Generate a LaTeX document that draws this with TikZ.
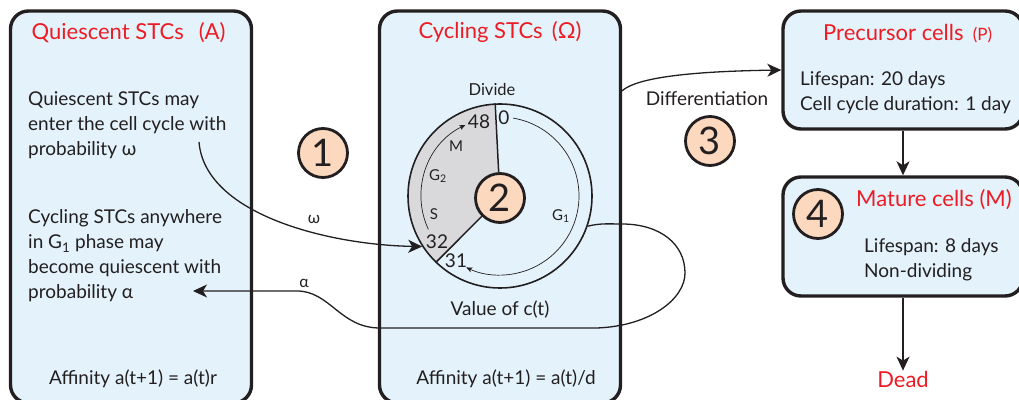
\documentclass[tikz,border=0pt]{standalone}
\usepackage{fontspec}
\setmainfont{Lato}
\usetikzlibrary{arrows.meta}
\definecolor{boxblue}{HTML}{E3F2FB}
\definecolor{badgepeach}{HTML}{FBD8BE}
\definecolor{inkdark}{HTML}{231F20}
\definecolor{titlered}{HTML}{ED1C24}
\definecolor{sectorgrey}{HTML}{D9D9DC}

\begin{document}
\begin{tikzpicture}[x=1pt,y=1pt,color=inkdark,text=inkdark]

      \tikzset{box/.style = {shape=rectangle,draw,fill=boxblue,line width=3.4pt,rounded corners=18pt,inner sep=0pt}}
      \tikzset{badge/.style = {shape=circle,draw,fill=badgepeach,line width=2.8pt,minimum size=49pt,inner sep=0pt,font=\fontsize{38}{38}\selectfont}}
      \tikzset{title/.style = {text=titlered,inner sep=0pt,font=\fontsize{22}{24}\selectfont}}
      \tikzset{body/.style = {inner sep=0pt,align=left,font=\fontsize{19}{25}\selectfont}}
      \tikzset{phase/.style = {inner sep=0pt,font=\fontsize{15}{16}\selectfont}}
      \tikzset{count/.style = {inner sep=0pt,font=\fontsize{19}{20}\selectfont}}
      \tikzset{edge/.style = {-{Stealth[length=14pt,width=13pt,inset=4pt]},line width=1.3pt}}
      \tikzset{cycle/.style = {-{Stealth[length=6pt,width=5pt,inset=1.5pt]},line width=0.7pt}}

      \useasboundingbox (0,0) rectangle (1019,399);
      \clip (0,0) rectangle (1019,399);

      % boxes
      \node[box,minimum width=241pt,minimum height=392pt] (a) at (131,192) {};
      \node[box,minimum width=241pt,minimum height=392pt] (w) at (500,192) {};
      \node[box,minimum width=240pt,minimum height=118pt] (p) at (903,329) {};
      \node[box,minimum width=240pt,minimum height=119pt] (m) at (903,162.5) {};

      % cycle wheel
      \fill[sectorgrey] (500,203) ++(93.7:92pt) arc[start angle=93.7,end angle=226,radius=92pt] -- (500,201) -- cycle;
      \node[shape=circle,draw,line width=1.6pt,minimum size=184pt,inner sep=0pt] (c) at (500,203) {};
      \node[badge] (two) at (500,201) {2};
      \draw[line width=1.5pt] (c.93.7) -- (two);
      \draw[line width=1.5pt] (c.226) -- (two);
      \draw[cycle] (c.center) ++(80.5:79pt) arc[start angle=80.5,end angle=-115.3,radius=79pt];
      \draw[cycle] (c.center) ++(205:79pt) arc[start angle=205,end angle=116,radius=79pt];

      % other badges
      \node[badge] (one) at (323,246) {1};
      \node[badge] (three) at (710,258) {3};
      \node[badge] (four) at (818,185) {4};

      % titles
      \node[title] (atitle) at (128.5,366) {Quiescent STCs\, ~(A)};
      \node[title] (wtitle) at (500,367) {Cycling STCs\, (Ω)};
      \node[title,anchor=west] (ptitle) at (823,365) {Precursor cells\, {\fontsize{17}{20}\selectfont (P)}};
      \node[title,anchor=west] (mtitle) at (856,199) {Mature cells (M)};
      \node[title] (dead) at (903,20) {Dead};

      % texts
      \node[body,anchor=west] (atext) at (28,274) {Quiescent STCs may\\enter the cell cycle with\\probability ω};
      \node[body,anchor=west] (qtext) at (28,143) {Cycling STCs anywhere\\in G\textsubscript{1} phase may\\become quiescent with\\probability α};
      \node[body] (aff) at (133,20) {Affinity a(t+1) = a(t)r};
      \node[body] (waff) at (506,20) {Affinity a(t+1) = a(t)/d};
      \node[body] (val) at (500,89) {Value of c(t)};
      \node[body,anchor=west] (ptext) at (800,306.5) {Lifespan: 20 days\\Cell cycle duration: 1 day};
      \node[body,anchor=west] (mtext) at (864,139) {Lifespan: 8 days\\Non-dividing};
      \node[body] (diff) at (707,300) {Differentiation};
      \node[phase,font=\fontsize{16.5}{18}\selectfont] (divide) at (492,310) {Divide};

      % wheel labels
      \node[count] (n48) at (479,277) {48};
      \node[count] (n0) at (504,281) {0};
      \node[count] (n32) at (437,157) {32};
      \node[count] (n31) at (456,138) {31};
      \node[phase] (g2) at (438,223) {G\textsubscript{2}};
      \node[phase] (lm) at (456,253) {M};
      \node[phase] (ls) at (434,185) {S};
      \node[phase] (g1) at (561,183) {G\textsubscript{1}};

      % edge labels
      \node[body,font=\fontsize{16}{18}\selectfont] (lw) at (314,179) {ω};
      \node[body,font=\fontsize{16}{18}\selectfont] (la) at (304,116) {α};

      % free ends
      \coordinate (ws) at (199,257);
      \coordinate (at) at (193,108);
      \coordinate (ds) at (622,308);

      %edges
      \draw[edge] (ws) .. controls (205,184) and (330,154) .. (c.213);
      \draw[edge] (c.-19) .. controls (600,176) and (610,175) .. (622,175)
            .. controls (660,175) and (685,155) .. (685,126)
            .. controls (685,100) and (650,73) .. (597,71)
            -- (380,71) .. controls (340,71) and (330,108) .. (297,108) -- (at);
      \draw[edge] (ds) .. controls (640,325) and (720,328) .. (p.west);
      \draw[edge] (p) -- (m);
      \draw[edge] (m) -- (dead);
\end{tikzpicture}
\end{document}
